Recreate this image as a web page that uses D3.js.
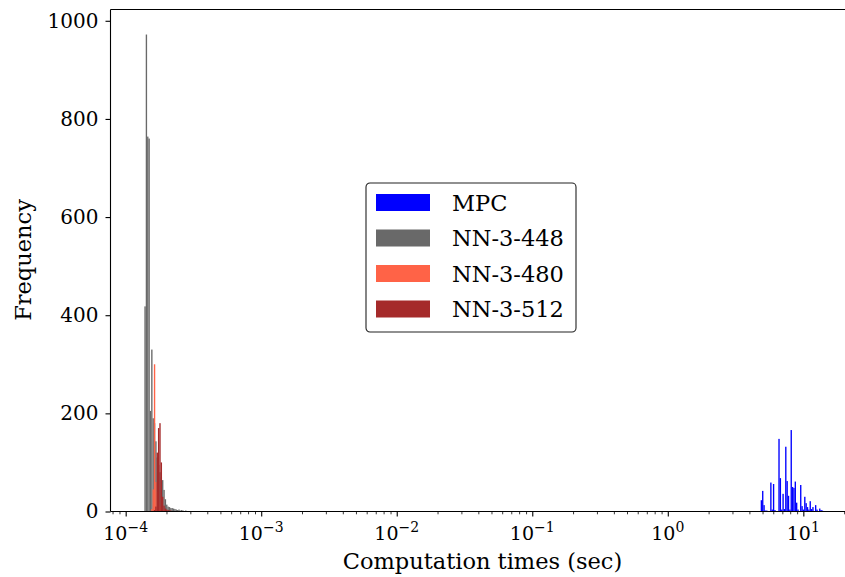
<!DOCTYPE html>
<html>
<head>
<meta charset="utf-8">
<script src="https://cdn.jsdelivr.net/npm/d3@7"></script>
<style>
  body { margin: 0; background: #fff; }
  text { font-family: "DejaVu Serif", serif; fill: #000; }
</style>
</head>
<body>
<div class="hist_plot"></div>
<script>
// histogram bins: 500 log-spaced bins shared by all series
const binLo = 1.374e-4, binHi = 14.0, nBins = 500;

const categories = ['MPC', 'NN-3-448', 'NN-3-480', 'NN-3-512'];

// counts per bin, starting at the given bin index
const mpcStartBin = 454;
const mpcCounts = [23, 42, 13, 2, 2, 0, 0, 59, 4, 56, 3, 0, 0, 148, 68, 4, 36, 5, 132, 62,
                   32, 4, 166, 50, 48, 61, 18, 4, 0, 54, 11, 4, 30, 17, 9, 4, 21, 5, 9, 0,
                   13, 4, 0, 6, 3, 2];
const nn448StartBin = 0;
const nn448Counts = [418, 972, 764, 760, 205, 330, 190, 180, 143, 110, 95, 80, 70, 64, 44, 25,
                     14, 10, 9, 7, 7, 6, 5, 4, 3, 4, 2, 3, 2, 1, 2, 1, 1, 0, 1, 1, 0, 1];
const nn480StartBin = 5;
const nn480Counts = [5, 45, 300, 60, 40, 20, 10, 5, 3, 2, 1, 1, 0, 1];
const nn512StartBin = 7;
const nn512Counts = [3, 10, 120, 170, 180, 100, 30, 12, 6, 4, 3, 2, 2, 1, 1, 1, 0, 1, 0, 1,
                     0, 0, 1, 0, 0, 0, 0, 0, 0, 1];

const yTicks = [0, 200, 400, 600, 800, 1000];
const xMajorExp = [-4, -3, -2, -1, 0, 1];

const colors = ['#0000ff', '#696969', '#ff6347', '#a52a2a'];

const margin = {top: 9.5, left: 110.5};
const width = 746.5, height = 502;

const edges = d3.range(nBins + 1).map(i => binLo * Math.pow(binHi / binLo, i / nBins));

const xScale = d3.scaleLog()
                 .domain([Math.pow(10, -4.112), Math.pow(10, 1.396)])
                 .range([0, width]);
const yScale = d3.scaleLinear()
                 .domain([0, 1023])
                 .range([height, 0]);

const svg = d3.select('.hist_plot')
              .append('svg')
              .attr('width', 845)
              .attr('height', 577)
              .append('g')
              .attr('transform', `translate(${margin.left}, ${margin.top})`);

const series = [
  {start: mpcStartBin, counts: mpcCounts},
  {start: nn448StartBin, counts: nn448Counts},
  {start: nn480StartBin, counts: nn480Counts},
  {start: nn512StartBin, counts: nn512Counts}
];

series.forEach((s, si) => {
  const bins = s.counts.map((c, i) => ({k: s.start + i, count: c})).filter(d => d.count > 0);
  svg.append('g')
     .selectAll('rect')
     .data(bins)
     .enter()
     .append('rect')
     .attr('x', d => xScale(edges[d.k]))
     .attr('width', d => xScale(edges[d.k + 1]) - xScale(edges[d.k]))
     .attr('y', d => yScale(d.count))
     .attr('height', d => yScale(0) - yScale(d.count))
     .attr('fill', colors[si]);
});

// y axis
const yAxis = d3.axisLeft(yScale)
                .tickValues(yTicks)
                .tickSize(5)
                .tickPadding(7)
                .tickFormat(d3.format('d'));
const yG = svg.append('g').attr('class', 'axis y-axis').call(yAxis);
yG.select('.domain').remove();
yG.selectAll('text').attr('font-size', 20).attr('font-family', '"DejaVu Serif", serif');
yG.selectAll('line').attr('stroke-width', 1.1);

// x axis: major + minor log ticks
const minorVals = [];
d3.range(-5, 2).forEach(e => {
  for (let m = 2; m <= 9; m++) {
    const v = m * Math.pow(10, e);
    if (v > xScale.domain()[0] && v < xScale.domain()[1]) minorVals.push(v);
  }
});
const xMinor = d3.axisBottom(xScale).tickValues(minorVals).tickSize(2.8).tickFormat('');
const xMajor = d3.axisBottom(xScale).tickValues(xMajorExp.map(e => Math.pow(10, e))).tickSize(5).tickFormat('');
const xm = svg.append('g').attr('transform', `translate(0, ${height})`).call(xMinor);
xm.select('.domain').remove();
xm.selectAll('line').attr('stroke-width', 0.8);
const xM = svg.append('g').attr('transform', `translate(0, ${height})`).call(xMajor);
xM.select('.domain').remove();
xM.selectAll('line').attr('stroke-width', 1.1);

const xl = svg.append('g')
              .selectAll('text')
              .data(xMajorExp)
              .enter()
              .append('text')
              .attr('x', d => xScale(Math.pow(10, d)))
              .attr('y', height + 28.5)
              .attr('text-anchor', 'middle')
              .attr('font-size', 19);
xl.append('tspan').text('10');
xl.append('tspan').attr('dy', -8).attr('font-size', 14).text(d => (d < 0 ? '\u2212' : '') + Math.abs(d));

// spines
svg.append('line').attr('x1', 0).attr('x2', width).attr('y1', height).attr('y2', height)
   .attr('stroke', '#000').attr('stroke-width', 1.1);
svg.append('line').attr('x1', 0).attr('x2', width).attr('y1', 0).attr('y2', 0)
   .attr('stroke', '#000').attr('stroke-width', 1.1);
svg.append('line').attr('x1', 0).attr('x2', 0).attr('y1', 0).attr('y2', height)
   .attr('stroke', '#000').attr('stroke-width', 1.1);
svg.append('line').attr('x1', width).attr('x2', width).attr('y1', 0).attr('y2', height)
   .attr('stroke', '#000').attr('stroke-width', 1.1);

// axis labels
svg.append('text')
   .attr('x', 372)
   .attr('y', 559)
   .attr('text-anchor', 'middle')
   .attr('font-size', 22.5)
   .text('Computation times (sec)');
svg.append('text')
   .attr('transform', `translate(${31 - margin.left}, ${260 - margin.top}) rotate(-90)`)
   .attr('text-anchor', 'middle')
   .attr('font-size', 22.5)
   .text('Frequency');

// legend
const legend = svg.append('g').attr('transform', `translate(${366 - margin.left}, ${183 - margin.top})`);
legend.append('rect')
      .attr('width', 210).attr('height', 149).attr('rx', 4)
      .attr('fill', '#fff').attr('stroke', '#222').attr('stroke-width', 1.1);
const items = legend.selectAll('g.item')
                    .data(categories)
                    .enter()
                    .append('g')
                    .attr('class', 'item')
                    .attr('transform', (d, i) => `translate(0, ${19.5 + i * 35.5})`);
items.append('rect')
     .attr('x', 10).attr('y', -8.5).attr('width', 54).attr('height', 17)
     .attr('fill', (d, i) => colors[i]);
items.append('text')
     .attr('x', 86)
     .attr('y', 8)
     .attr('font-size', 22.5)
     .text(d => d);
</script>
</body>
</html>
